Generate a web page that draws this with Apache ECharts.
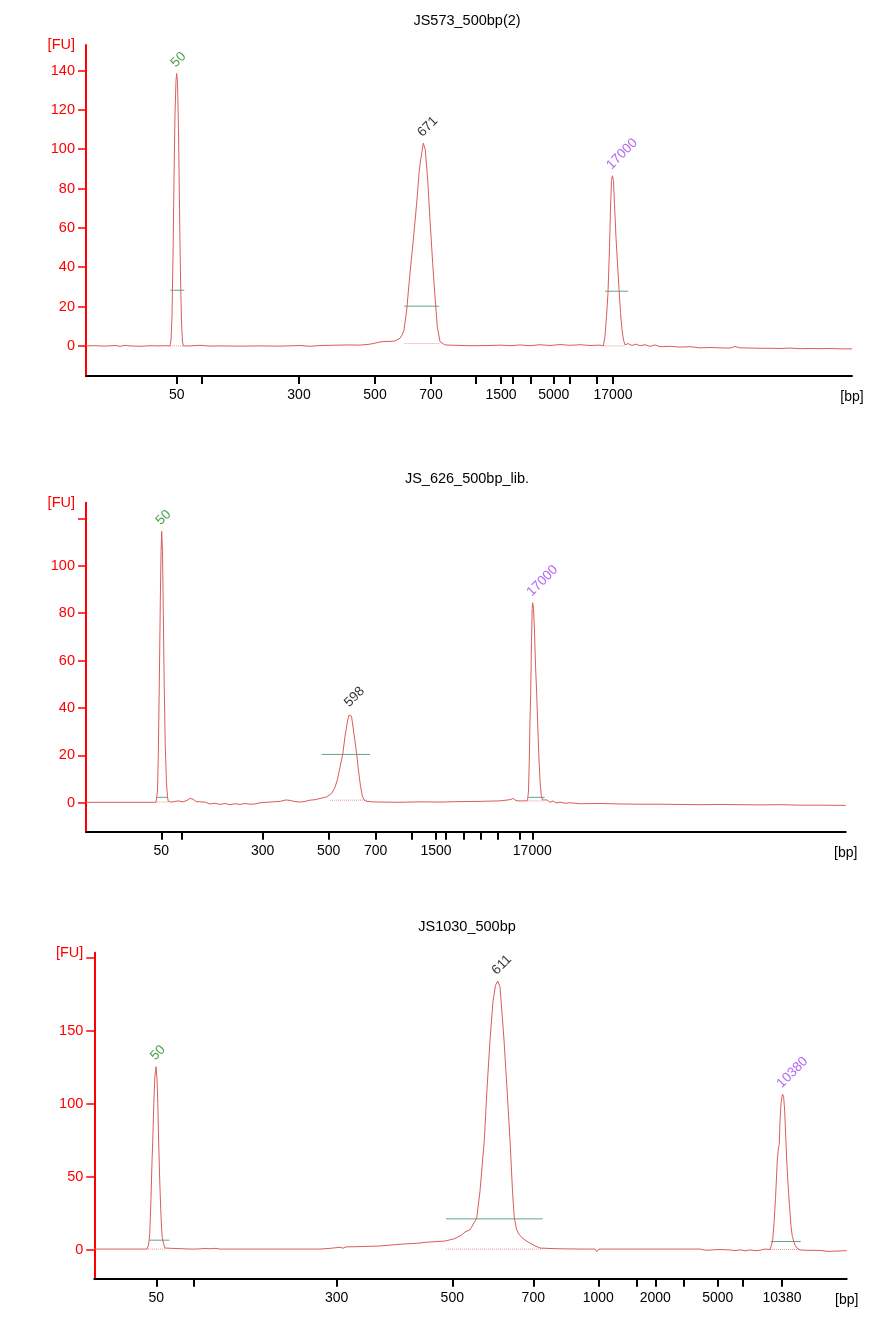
<!DOCTYPE html>
<html><head><meta charset="utf-8">
<script src="https://cdn.jsdelivr.net/npm/echarts@6/dist/echarts.min.js"></script>
<style>html,body{margin:0;padding:0;background:#fff}#c{width:889px;height:1329px}</style>
</head><body><div id="c"></div>
<script>
// ================= DATA =================
// Ladder sizes (bp) of the DNA 12000 ladder
const ladderBp = [50, 100, 300, 500, 700, 1000, 1500, 2000, 3000, 5000, 7000, 10380, 17000];
const titles = ['JS573_500bp(2)', 'JS_626_500bp_lib.', 'JS1030_500bp'];

// ---- Panel 1 (migration time in s, fluorescence in FU) ----
const p1LadderTime = [17.67, 20.17, 29.9, 37.5, 43.1, 47.57, 50.1, 51.3, 53.1, 55.37, 56.97, 59.7, 61.3];
const p1LabeledBp = [50, 300, 500, 700, 1500, 5000, 17000];
const p1TimeRange = [8.6, 85.2];
const p1FuRange = [-15.3, 153];
const p1FuTicks = [0, 20, 40, 60, 80, 100, 120, 140];
const p1FuLabels = [0, 20, 40, 60, 80, 100, 120, 140];
const p1Trace = [[8.6,0],[9.5,0.1],[10.5,-0.1],[11.5,0.2],[12,-0.2],[12.5,0.3],[13,0],[14,-0.2],[15,0.1],[16,0],[16.5,0.1],[17.0,0],[17.1,3],[17.2,15],[17.3,45],[17.4,85],[17.5,118],[17.6,135],[17.67,138.5],[17.75,134],[17.85,110],[17.95,70],[18.05,35],[18.15,12],[18.25,2],[18.35,0],[19,0],[20,0.3],[21,-0.1],[22,0],[24,-0.1],[26,0],[28,-0.1],[30,0.2],[31,-0.2],[32,0.2],[33,0.3],[34,0.4],[35,0.5],[36,0.4],[37,0.9],[37.5,1.4],[38.2,2.2],[39,2.3],[39.5,2.5],[40,3.9],[40.2,5.5],[40.4,8.1],[40.67,18.3],[41,37],[41.33,54],[41.67,72.6],[41.93,89.5],[42.17,98],[42.33,103.1],[42.53,99.7],[42.77,84.4],[43,64],[43.27,42],[43.5,25],[43.73,9.8],[44,2.2],[44.5,0.5],[45.5,0.3],[47,0.1],[49,0.2],[50,0.4],[51,0.1],[52,0.5],[53,0.1],[54,0.6],[55,0.2],[56,0.7],[57,0.3],[58,0.6],[59,0.2],[60,0.4],[60.33,0],[60.5,5],[60.65,15],[60.8,27],[60.95,50],[61.05,70],[61.15,84],[61.23,86.5],[61.35,84],[61.45,72],[61.6,55],[61.75,42],[61.9,29],[62.05,17],[62.2,8],[62.35,3],[62.5,0.5],[62.8,1.2],[63.2,0.2],[63.6,0.9],[64,0.1],[64.5,0.6],[65,-0.2],[65.5,0.5],[66,-0.4],[67,-0.2],[68,-0.6],[69,-0.4],[70,-1.0],[71,-0.8],[72,-1.0],[73,-1.1],[73.5,-0.3],[74,-1.0],[75,-1.1],[76,-1.2],[77,-1.2],[78,-1.3],[79,-1.1],[80,-1.4],[81,-1.3],[82,-1.4],[83,-1.3],[84,-1.5],[85.2,-1.5]];
const p1PeakTime = [17.67, 42.33, 61.23];
const p1PeakFu = [138.5, 103.1, 86.5];
const p1PeakText = ['50', '671', '17000'];
const p1RegionFrom = [17.03, 40.43, 60.5];
const p1RegionTo = [18.43, 43.93, 62.83];
const p1RegionFu = [28.3, 20.2, 27.8];
const p1BaseFrom = [17.0, 40.43, 60.33];
const p1BaseTo = [18.3, 43.93, 62.5];
const p1BaseFu = [0, 1.2, 0];

// ---- Panel 2 ----
const p2LadderTime = [16.13, 18.17, 26.27, 32.87, 37.57, 41.17, 43.6, 44.6, 46.33, 48.03, 49.77, 52.0, 53.23];
const p2LabeledBp = [50, 300, 500, 700, 1500, 17000];
const p2TimeRange = [8.6, 84.57];
const p2FuRange = [-12.2, 126.6];
const p2FuTicks = [0, 20, 40, 60, 80, 100, 120];
const p2FuLabels = [0, 20, 40, 60, 80, 100];
const p2Trace = [[8.6,0.2],[10,0.2],[12,0.2],[14,0.2],[15.6,0.2],[15.67,0.5],[15.75,5],[15.83,20],[15.93,50],[16.03,85],[16.1,105],[16.17,114.5],[16.25,106],[16.33,80],[16.42,50],[16.52,25],[16.65,8],[16.75,2.5],[16.83,0.5],[17.2,0.3],[17.8,0.8],[18.3,0.4],[18.7,1.0],[19.0,1.9],[19.3,1.5],[19.6,0.5],[20.5,0.3],[21,-0.5],[21.5,-0.2],[22,-0.7],[22.5,-0.3],[23,-0.8],[23.5,-0.4],[24,-0.7],[24.5,-0.3],[25,-0.6],[25.5,-0.5],[26,0],[27,0.3],[28,0.6],[28.6,1.2],[29,1.0],[29.5,0.5],[30,0.3],[30.5,0.6],[31,1.1],[31.5,1.3],[32,1.8],[32.67,2.5],[33.17,4],[33.5,6.5],[33.75,10],[34,15],[34.27,20.4],[34.5,28],[34.75,34.5],[34.9,37],[35.0,37.7],[35.15,36.5],[35.3,32],[35.5,26],[35.67,20.4],[35.85,13.5],[36.05,7],[36.25,2.5],[36.45,1],[36.7,0.6],[37.2,0.4],[38,0.3],[40,0.2],[42,0.4],[44,0.3],[46,0.5],[48,0.6],[50,0.8],[51.0,1.3],[51.33,1.8],[51.6,0.9],[52,0.8],[52.75,0.8],[52.85,5],[52.93,18],[53.0,35],[53.07,46],[53.15,68],[53.22,82],[53.27,84.4],[53.35,82],[53.45,72],[53.55,58],[53.67,46],[53.78,32],[53.9,18],[54.02,8],[54.13,3],[54.25,1.2],[54.4,0.5],[54.7,1.2],[55,0.2],[55.3,0.8],[55.6,-0.1],[56,0.3],[56.5,-0.2],[57,0],[58,-0.4],[60,-0.3],[62,-0.5],[64,-0.6],[66,-0.6],[68,-0.7],[70,-0.8],[72,-0.7],[74,-0.8],[76,-0.9],[78,-0.8],[80,-1.0],[82,-1.0],[84.57,-1.1]];
const p2PeakTime = [16.17, 35.0, 53.27];
const p2PeakFu = [114.5, 37.7, 84.4];
const p2PeakText = ['50', '598', '17000'];
const p2RegionFrom = [15.67, 32.17, 52.83];
const p2RegionTo = [16.8, 37.0, 54.47];
const p2RegionFu = [2.3, 20.4, 2.3];
const p2BaseFrom = [15.67, 33.0, 52.83];
const p2BaseTo = [16.83, 36.83, 54.4];
const p2BaseFu = [0.3, 1.1, 0.8];

// ---- Panel 3 ----
const p3LadderTime = [15.63, 19.37, 33.67, 45.23, 53.33, 59.83, 63.67, 65.53, 68.33, 71.77, 74.3, 78.2];
const p3LabeledBp = [50, 300, 500, 700, 1000, 2000, 5000, 10380];
const p3TimeRange = [9.43, 84.67];
const p3FuRange = [-20, 203.4];
const p3FuTicks = [0, 50, 100, 150, 200];
const p3FuLabels = [0, 50, 100, 150];
const p3Trace = [[9.43,0.3],[12,0.3],[14.7,0.3],[14.85,3],[14.97,10],[15.1,35],[15.2,60],[15.27,73],[15.38,100],[15.48,118],[15.6,125.3],[15.7,117],[15.78,100],[15.87,73],[15.97,48],[16.07,28],[16.17,13],[16.23,8],[16.35,4],[16.5,1],[16.67,0.3],[19,0.3],[19.2,0.8],[19.4,0.3],[20,0.4],[20.5,0.8],[21,0.5],[21.5,0.8],[22,0.3],[26,0.3],[32,0.3],[33,0.8],[34,1.5],[34.3,0.9],[34.6,1.8],[36,2.0],[38,2.4],[38.2,3.2],[40,3.6],[42,4.4],[42.3,4.8],[43.3,5.3],[44.5,5.8],[44.6,7.0],[45.5,7.5],[46.17,10],[46.5,12],[47,13.5],[47.67,21.5],[48,40],[48.43,75],[48.7,110],[49,143.6],[49.3,170],[49.55,181],[49.77,184],[50,180],[50.2,162],[50.4,143.6],[50.7,110],[51,75],[51.25,40],[51.43,21.5],[51.65,14],[51.83,11.2],[52.2,8],[52.6,6],[53,4.4],[53.5,2.5],[54,1],[55,0.7],[56,0.5],[58,0.3],[59.5,0.3],[59.67,-1.5],[59.9,0.3],[62,0.3],[66,0.3],[70,0.3],[70.6,-0.5],[70.8,0.3],[72,0],[73,-0.3],[73.5,-0.8],[74,-0.2],[74.5,-0.9],[75,-0.3],[75.5,-0.8],[76,-0.5],[76.5,0.3],[77,0],[77.15,3],[77.27,6.6],[77.4,18],[77.55,35],[77.73,61.4],[77.85,70],[77.93,72],[78.0,88],[78.1,100],[78.2,105],[78.27,106.4],[78.37,104],[78.47,95],[78.57,78],[78.67,61.4],[78.8,45],[78.95,30],[79.1,16],[79.23,9],[79.33,6.6],[79.5,3],[79.7,1],[80,-0.3],[80.5,-0.5],[81,-0.6],[82,-0.6],[82.8,-1.3],[83,-0.6],[84.67,-0.8]];
const p3PeakTime = [15.6, 49.77, 78.27];
const p3PeakFu = [125.3, 184, 106.4];
const p3PeakText = ['50', '611', '10380'];
const p3RegionFrom = [14.93, 44.6, 77.07];
const p3RegionTo = [16.93, 54.27, 80.07];
const p3RegionFu = [6.4, 21, 5.5];
const p3BaseFrom = [14.8, 44.6, 77.0];
const p3BaseTo = [16.6, 54.27, 80.0];
const p3BaseFu = [0.3, 0.3, 0];

// peak roles: lower marker, sample, upper marker
const peakRoles = ['lower', 'sample', 'upper'];

// ================= STYLE / LAYOUT =================
const FONT = '"Liberation Sans", Arial, sans-serif';
const ROLE_COLOR = { lower: '#1f8a1f', sample: '#000000', upper: '#a040f0' };
const TRACE_COLOR = '#dc5c5c';
const REGION_COLOR = '#5fa595';
const BASE_COLOR = '#e79a9a';
const LAYOUT = [
  { left: 86, top: 45, width: 766, height: 331, titleY: 20.5 },
  { left: 86, top: 502.7, width: 759.7, height: 329, titleY: 478.5 },
  { left: 94.3, top: 952.7, width: 752.4, height: 326, titleY: 926.5 }
];

const panels = [
  { title: titles[0], ladder: p1LadderTime, labeled: p1LabeledBp, tr: p1TimeRange, fr: p1FuRange, ft: p1FuTicks, fl: p1FuLabels, trace: p1Trace,
    pk: [p1PeakTime, p1PeakFu, p1PeakText], rg: [p1RegionFrom, p1RegionTo, p1RegionFu], bs: [p1BaseFrom, p1BaseTo, p1BaseFu] },
  { title: titles[1], ladder: p2LadderTime, labeled: p2LabeledBp, tr: p2TimeRange, fr: p2FuRange, ft: p2FuTicks, fl: p2FuLabels, trace: p2Trace,
    pk: [p2PeakTime, p2PeakFu, p2PeakText], rg: [p2RegionFrom, p2RegionTo, p2RegionFu], bs: [p2BaseFrom, p2BaseTo, p2BaseFu] },
  { title: titles[2], ladder: p3LadderTime, labeled: p3LabeledBp, tr: p3TimeRange, fr: p3FuRange, ft: p3FuTicks, fl: p3FuLabels, trace: p3Trace,
    pk: [p3PeakTime, p3PeakFu, p3PeakText], rg: [p3RegionFrom, p3RegionTo, p3RegionFu], bs: [p3BaseFrom, p3BaseTo, p3BaseFu] }
];

const grid = [], xAxis = [], yAxis = [], series = [], graphic = [];
panels.forEach((p, i) => {
  const L = LAYOUT[i];
  grid.push({ left: L.left, top: L.top, width: L.width, height: L.height, outerBoundsMode: 'none', containLabel: false });
  const timeToBp = {};
  p.ladder.forEach((t, k) => { timeToBp[t.toFixed(3)] = ladderBp[k]; });
  const labeledTimes = p.labeled.map(bp => p.ladder[ladderBp.indexOf(bp)]);
  xAxis.push({
    gridIndex: i, type: 'value', min: p.tr[0], max: p.tr[1],
    axisLine: { onZero: false, lineStyle: { color: '#000', width: 2 } },
    axisTick: { show: true, length: 8, customValues: p.ladder, lineStyle: { color: '#000', width: 2 } },
    axisLabel: { customValues: labeledTimes, formatter: v => String(timeToBp[Number(v).toFixed(3)] ?? ''),
      color: '#000', fontSize: 14, fontFamily: FONT, margin: 12 },
    splitLine: { show: false },
    name: '[bp]', nameLocation: 'end', nameGap: 0, nameMoveOverlap: false,
    nameTextStyle: { align: 'center', verticalAlign: 'top', padding: [14, 0, 0, 0], color: '#000', fontSize: 14, fontFamily: FONT }
  });
  yAxis.push({
    gridIndex: i, type: 'value', min: p.fr[0], max: p.fr[1],
    axisLine: { onZero: false, lineStyle: { color: '#ff0000', width: 2 } },
    axisTick: { show: true, length: 8, customValues: p.ft, lineStyle: { color: '#ff0000', width: 1.5 } },
    axisLabel: { customValues: p.fl, color: '#ff0000', fontSize: 14.5, fontFamily: FONT, margin: 11 },
    splitLine: { show: false },
    name: '[FU]', nameLocation: 'end', nameGap: 0, nameMoveOverlap: false,
    nameTextStyle: { align: 'right', verticalAlign: 'middle', padding: [0, 11, 0, 0], color: '#ff0000', fontSize: 14.5, fontFamily: FONT }
  });
  graphic.push({ type: 'text', x: 467, y: L.titleY,
    style: { text: p.title, fill: '#000', font: '14.5px ' + FONT, align: 'center', verticalAlign: 'middle' } });

  // region markers
  p.rg[0].forEach((from, k) => {
    series.push({ type: 'line', xAxisIndex: i, yAxisIndex: i, silent: true, showSymbol: false, z: 2,
      data: [[from, p.rg[2][k]], [p.rg[1][k], p.rg[2][k]]], lineStyle: { color: REGION_COLOR, width: 1 } });
  });
  p.bs[0].forEach((from, k) => {
    series.push({ type: 'line', xAxisIndex: i, yAxisIndex: i, silent: true, showSymbol: false, z: 2,
      data: [[from, p.bs[2][k]], [p.bs[1][k], p.bs[2][k]]], lineStyle: { color: BASE_COLOR, width: 1, type: 'dotted' } });
  });
  // trace
  series.push({ type: 'line', xAxisIndex: i, yAxisIndex: i, silent: true, showSymbol: false, z: 3,
    data: p.trace, lineStyle: { color: TRACE_COLOR, width: 1 } });
  // peak labels
  series.push({ type: 'scatter', xAxisIndex: i, yAxisIndex: i, silent: true, z: 4, symbolSize: 1,
    itemStyle: { color: 'rgba(0,0,0,0)' },
    data: p.pk[0].map((t, k) => ({ value: [t, p.pk[1][k]], name: p.pk[2][k],
      label: { color: ROLE_COLOR[peakRoles[k]] } })),
    label: { show: true, formatter: '{b}', position: [-3, -8], rotate: 45, align: 'left', verticalAlign: 'middle',
      fontSize: 13.5, fontFamily: FONT }
  });
});

const chart = echarts.init(document.getElementById('c'), null, { renderer: 'canvas' });
chart.setOption({ animation: false, backgroundColor: '#fff', grid, xAxis, yAxis, series, graphic });
</script></body></html>
